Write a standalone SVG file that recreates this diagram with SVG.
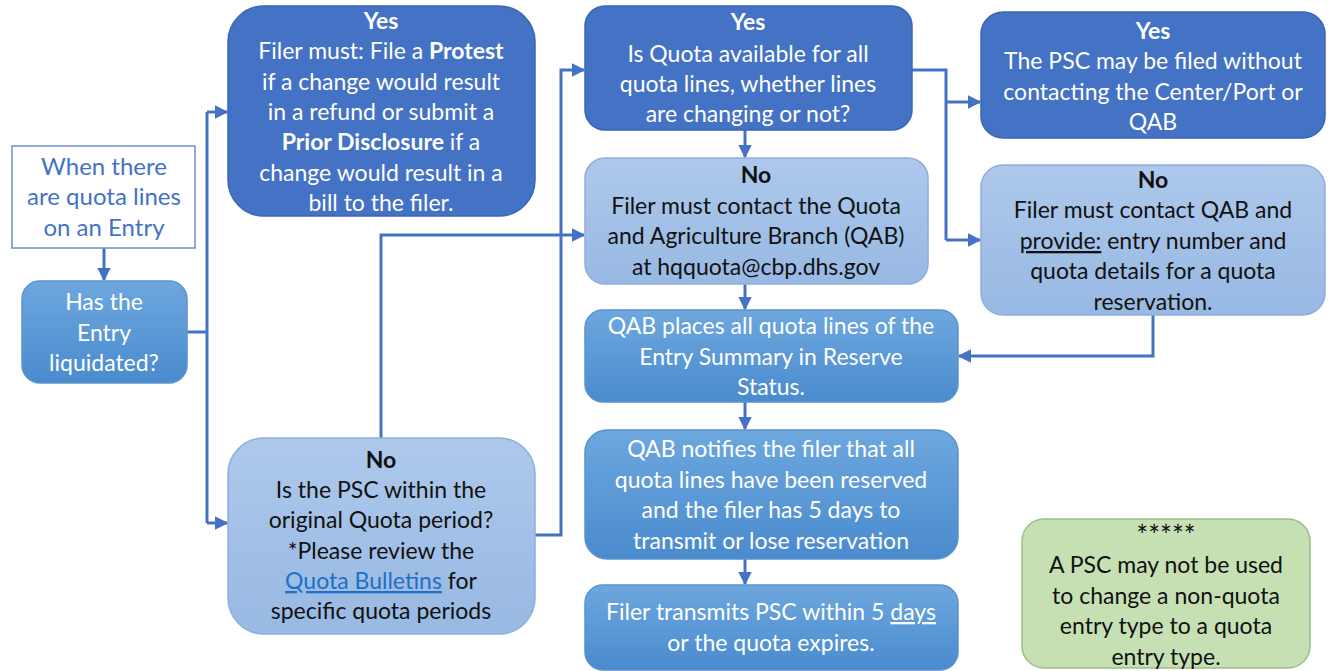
<svg xmlns="http://www.w3.org/2000/svg" width="1335" height="671" viewBox="0 0 1335 671">
<defs>
<linearGradient id="gMed" x1="0" y1="0" x2="0" y2="1">
<stop offset="0" stop-color="#6DA7DE"/>
<stop offset="1" stop-color="#4A8BCE"/>
</linearGradient>
<linearGradient id="gLight" x1="0" y1="0" x2="0" y2="1">
<stop offset="0" stop-color="#ADC8EB"/>
<stop offset="1" stop-color="#98B9E3"/>
</linearGradient>
<marker id="ah" viewBox="0 0 10 10" refX="9" refY="5" markerWidth="4.5" markerHeight="4.5" orient="auto" markerUnits="strokeWidth">
<path d="M0,0 L10,5 L0,10 z" fill="#4472C4"/>
</marker>
</defs>
<style>
text{font-family:Lato,"Open Sans","Liberation Sans",sans-serif;font-size:23px;text-anchor:middle}
.w{fill:#FFFFFF}
.k{fill:#111111}
.b{font-weight:bold}
.dark{fill:#4472C4;stroke:#3A66B5;stroke-width:1.5}
.med{fill:url(#gMed);stroke:#5A93CF;stroke-width:1.5}
.light{fill:url(#gLight);stroke:#8DAFDC;stroke-width:1.5}
.green{fill:#C6E0B4;stroke:#9CBF86;stroke-width:1.5}
.con{fill:none;stroke:#4472C4;stroke-width:3}
.arr{marker-end:url(#ah)}
.link{fill:#1F6FC6;text-decoration:underline}
</style>
<rect width="1335" height="671" fill="#FFFFFF"/>

<g id="connectors">
<path class="con arr" d="M104,248 L104,280"/>
<path class="con" d="M187,332 L207,332"/>
<path class="con" d="M207,112 L207,523"/>
<path class="con arr" d="M207,112 L227,112"/>
<path class="con arr" d="M207,523 L227,523"/>
<path class="con arr" d="M381,438 L381,235 L584,235"/>
<path class="con arr" d="M535,535 L561,535 L561,70 L584,70"/>
<path class="con arr" d="M745,130 L745,157"/>
<path class="con arr" d="M745,284 L745,309"/>
<path class="con arr" d="M745,402 L745,429"/>
<path class="con arr" d="M745,559 L745,584"/>
<path class="con" d="M912,70 L946,70 L946,240"/>
<path class="con arr" d="M946,102 L980,102"/>
<path class="con arr" d="M946,240 L980,240"/>
<path class="con arr" d="M1153,315 L1153,356 L959,356"/>
</g>

<g id="n-start">
<rect x="12" y="146" width="183" height="102" fill="#FFFFFF" stroke="#6F8FCB" stroke-width="1.5"/>
<text x="104" y="175" fill="#4472C4" style="font-size:24px">When there</text>
<text x="104" y="205" fill="#4472C4" style="font-size:24px">are quota lines</text>
<text x="104" y="236" fill="#4472C4" style="font-size:24px">on an Entry</text>
</g>

<g id="n-liquidated">
<rect class="med" x="22" y="281" width="165" height="102" rx="18"/>
<text class="w" x="104" y="310">Has the</text>
<text class="w" x="104" y="341">Entry</text>
<text class="w" x="104" y="371">liquidated?</text>
</g>

<g id="n-yes-protest">
<rect class="dark" x="228" y="6" width="307" height="210" rx="36"/>
<text class="w b" x="381" y="29">Yes</text>
<text class="w" x="381" y="59">Filer must: File a <tspan class="b">Protest</tspan></text>
<text class="w" x="381" y="90">if a change would result</text>
<text class="w" x="381" y="120">in a refund or submit a</text>
<text class="w" x="381" y="150"><tspan class="b">Prior Disclosure</tspan> if a</text>
<text class="w" x="381" y="181">change would result in a</text>
<text class="w" x="381" y="211">bill to the filer.</text>
</g>

<g id="n-no-period">
<rect class="light" x="228" y="438" width="307" height="196" rx="36"/>
<text class="k b" x="381" y="468">No</text>
<text class="k" x="381" y="498">Is the PSC within the</text>
<text class="k" x="381" y="528">original Quota period?</text>
<text class="k" x="381" y="559">*Please review the</text>
<text class="k" x="381" y="589"><tspan class="link">Quota Bulletins</tspan> for</text>
<text class="k" x="381" y="619">specific quota periods</text>
</g>

<g id="n-yes-available">
<rect class="dark" x="585" y="6" width="327" height="124" rx="20"/>
<text class="w b" x="748" y="30">Yes</text>
<text class="w" x="748" y="62">Is Quota available for all</text>
<text class="w" x="748" y="92">quota lines, whether lines</text>
<text class="w" x="748" y="122">are changing or not?</text>
</g>

<g id="n-no-contact">
<rect class="light" x="585" y="158" width="343" height="126" rx="20"/>
<text class="k b" x="756" y="183">No</text>
<text class="k" x="756" y="214">Filer must contact the Quota</text>
<text class="k" x="756" y="244">and Agriculture Branch (QAB)</text>
<text class="k" x="756" y="275">at hqquota@cbp.dhs.gov</text>
</g>

<g id="n-reserve">
<rect class="med" x="585" y="310" width="373" height="92" rx="18"/>
<text class="w" x="771" y="334">QAB places all quota lines of the</text>
<text class="w" x="771" y="365">Entry Summary in Reserve</text>
<text class="w" x="771" y="395">Status.</text>
</g>

<g id="n-notify">
<rect class="med" x="585" y="430" width="373" height="129" rx="22"/>
<text class="w" x="771" y="457">QAB notifies the filer that all</text>
<text class="w" x="771" y="488">quota lines have been reserved</text>
<text class="w" x="771" y="518">and the filer has 5 days to</text>
<text class="w" x="771" y="549">transmit or lose reservation</text>
</g>

<g id="n-transmit">
<rect class="med" x="585" y="585" width="373" height="85" rx="18"/>
<text class="w" x="771" y="620">Filer transmits PSC within 5 <tspan text-decoration="underline">days</tspan></text>
<text class="w" x="771" y="651">or the quota expires.</text>
</g>

<g id="n-yes-file">
<rect class="dark" x="981" y="12" width="344" height="126" rx="22"/>
<text class="w b" x="1153" y="39">Yes</text>
<text class="w" x="1153" y="69">The PSC may be filed without</text>
<text class="w" x="1153" y="100">contacting the Center/Port or</text>
<text class="w" x="1153" y="130">QAB</text>
</g>

<g id="n-no-reservation">
<rect class="light" x="981" y="165" width="344" height="150" rx="22"/>
<text class="k b" x="1153" y="188">No</text>
<text class="k" x="1153" y="218">Filer must contact QAB and</text>
<text class="k" x="1153" y="249"><tspan text-decoration="underline">provide:</tspan> entry number and</text>
<text class="k" x="1153" y="279">quota details for a quota</text>
<text class="k" x="1153" y="310">reservation.</text>
</g>

<g id="n-note">
<rect class="green" x="1022" y="519" width="288" height="149" rx="22"/>
<text class="k" x="1166" y="546" style="font-size:28px">*****</text>
<text class="k" x="1166" y="573">A PSC may not be used</text>
<text class="k" x="1166" y="604">to change a non-quota</text>
<text class="k" x="1166" y="634">entry type to a quota</text>
<text class="k" x="1166" y="665">entry type.</text>
</g>
</svg>
